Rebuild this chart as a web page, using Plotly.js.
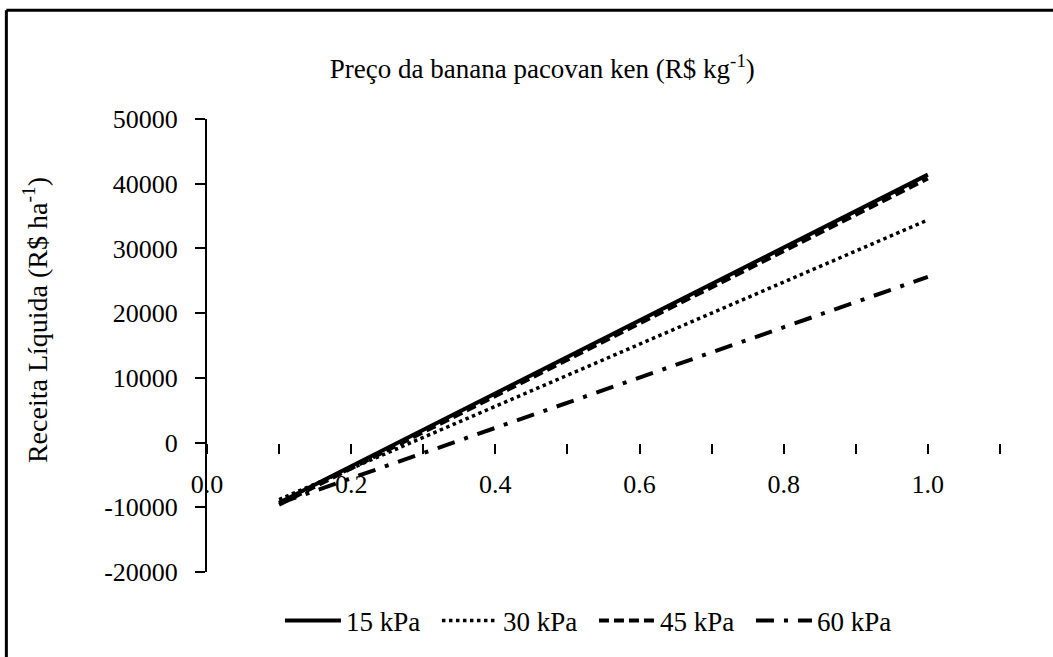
<!DOCTYPE html>
<html>
<head>
<meta charset="utf-8">
<script src="https://cdn.plot.ly/plotly-3.0.1.min.js"></script>
<style>
  html, body { margin: 0; padding: 0; background: #fff; }
  #chart { width: 1053px; height: 657px; }
</style>
</head>
<body>
<div id="chart"></div>
<script>
// Price of banana (R$ kg-1)
const price = [0.1, 1.0];
// Net revenue (R$ ha-1) per soil water tension
const kpa15 = [-9300, 41400];
const kpa30 = [-8800, 34400];
const kpa45 = [-9600, 40800];
const kpa60 = [-9400, 25600];
const seriesNames = ['15 kPa', '30 kPa', '45 kPa', '60 kPa'];
// Y tick labels
const yTickVals = [-20000, -10000, 0, 10000, 20000, 30000, 40000, 50000];
const yTickText = ['-20000', '-10000', '0', '10000', '20000', '30000', '40000', '50000'];

const font = 'Liberation Serif, Times New Roman, serif';

const traces = [
  {x: price, y: kpa15, name: seriesNames[0], mode: 'lines', line: {color: '#000', width: 4, dash: 'solid'}},
  {x: price, y: kpa30, name: seriesNames[1], mode: 'lines', line: {color: '#000', width: 3.5, dash: 'dot'}},
  {x: price, y: kpa45, name: seriesNames[2], mode: 'lines', line: {color: '#000', width: 4, dash: '10px,5px'}},
  {x: price, y: kpa60, name: seriesNames[3], mode: 'lines', line: {color: '#000', width: 4, dash: '18px,10px,4px,10px'}}
];

const layout = {
  width: 1053, height: 657,
  margin: {l: 207, r: 53, t: 119, b: 85},
  paper_bgcolor: '#fff', plot_bgcolor: '#fff',
  font: {family: font, color: '#000', size: 26},
  showlegend: true,
  title: {
    text: 'Preço da banana pacovan ken (R$ kg<sup>-1</sup>)',
    font: {family: font, size: 27, color: '#000'},
    xref: 'container', x: 0.515, xanchor: 'center',
    yref: 'container', y: 0.895, yanchor: 'middle'
  },
  xaxis: {
    range: [0, 1.1001],
    dtick: 0.2, tick0: 0,
    tickformat: '.1f',
    showgrid: false, zeroline: false, showline: false,
    anchor: 'free', position: 2/7,
    ticks: 'outside', ticklen: 10, tickwidth: 2, tickcolor: '#000',
    ticklabelstandoff: 8,
    minor: {dtick: 0.1, ticks: 'outside', ticklen: 10, tickwidth: 2, tickcolor: '#000', showgrid: false},
    tickfont: {family: font, size: 26, color: '#000'},
    fixedrange: true
  },
  yaxis: {
    range: [-20000, 50000],
    tickmode: 'array', tickvals: yTickVals, ticktext: yTickText,
    showgrid: false, zeroline: false,
    showline: true, linecolor: '#000', linewidth: 2,
    ticks: 'outside', ticklen: 10, tickwidth: 2, tickcolor: '#000',
    ticklabelstandoff: 12,
    tickfont: {family: font, size: 26, color: '#000'},
    fixedrange: true
  },
  annotations: [
    {text: 'Receita Líquida (R$ ha<sup>-1</sup>)', xref: 'paper', yref: 'paper',
     x: -0.217, y: 0.556, xanchor: 'center', yanchor: 'middle', textangle: -90,
     showarrow: false, font: {family: font, size: 28, color: '#000'}}
  ],
  legend: {
    orientation: 'h',
    x: 0.092, xanchor: 'left',
    y: -0.108, yanchor: 'middle',
    font: {family: font, size: 27, color: '#000'},
    bgcolor: 'rgba(0,0,0,0)',
    itemwidth: 56,
    entrywidth: 86,
    tracegroupgap: 0
  },
  shapes: [
    {type: 'line', xref: 'paper', yref: 'paper', x0: -0.253, x1: 1.07, y0: 1.24, y1: 1.24, line: {color: '#000', width: 3}},
    {type: 'line', xref: 'paper', yref: 'paper', x0: -0.253, x1: -0.253, y0: 1.24, y1: -0.2, line: {color: '#000', width: 3}}
  ]
};

Plotly.newPlot('chart', traces, layout, {displayModeBar: false, staticPlot: true});
</script>
</body>
</html>
